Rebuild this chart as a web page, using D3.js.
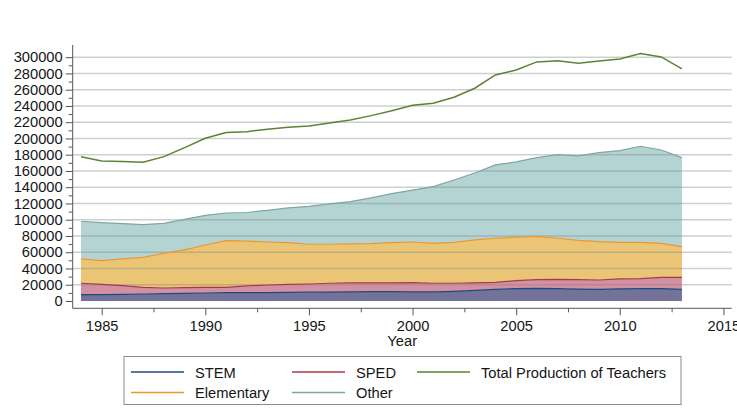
<!DOCTYPE html>
<html>
<head>
<meta charset="utf-8">
<script src="https://cdn.jsdelivr.net/npm/d3@7"></script>
<style>
  html, body { margin: 0; padding: 0; background: #fff; }
  svg { display: block; font-family: "Liberation Sans", Arial, sans-serif; }
</style>
</head>
<body>
<svg id="chart" width="737" height="409"></svg>
<script>
// Teacher production by field, 1984–2013
const years = [1984, 1985, 1986, 1987, 1988, 1989, 1990, 1991, 1992, 1993,
               1994, 1995, 1996, 1997, 1998, 1999, 2000, 2001, 2002, 2003,
               2004, 2005, 2006, 2007, 2008, 2009, 2010, 2011, 2012, 2013];

const stem = [7800, 7800, 8200, 8600, 9000, 9400, 9800, 10200, 10200, 10400,
              10600, 10800, 11000, 11200, 11400, 11600, 11300, 11100, 11900, 13100,
              14400, 15100, 15500, 15100, 14600, 14400, 14800, 15100, 15100, 14400];

const sped = [14000, 12700, 10700, 8200, 7000, 7000, 7000, 6600, 8300, 9300,
              9900, 10100, 10800, 11000, 10800, 10600, 11300, 10700, 9900, 9100,
              8600, 9900, 10700, 11600, 11600, 11400, 12300, 12400, 14000, 14700];

const elementary = [29900, 29100, 32800, 36900, 42700, 46400, 52100, 57400, 55100, 52900,
                    51300, 48900, 48000, 48000, 48300, 49600, 50000, 49200, 50400, 52900,
                    54200, 53400, 53400, 50500, 48500, 47200, 45100, 44700, 41900, 37700];

const other = [46400, 46800, 43500, 40200, 36900, 37700, 36500, 34100, 35300, 39000,
               42700, 46700, 49600, 52000, 56300, 60300, 63900, 69700, 76700, 82400,
               90200, 92700, 96800, 102900, 103800, 109500, 112800, 118200, 114800, 109600];

const total = [177600, 172300, 171500, 170700, 177600, 188700, 200200, 207200, 208400, 211300,
               213700, 215400, 219100, 222800, 228100, 234200, 240800, 243300, 250700, 261800,
               278200, 284300, 294200, 295700, 292500, 295400, 297800, 304400, 300300, 285500];

const yTicks = [0, 20000, 40000, 60000, 80000, 100000, 120000, 140000, 160000,
                180000, 200000, 220000, 240000, 260000, 280000, 300000];
const yMinorTicks = [10000, 30000, 50000, 70000, 90000, 110000, 130000, 150000,
                     170000, 190000, 210000, 230000, 250000, 270000, 290000];
const xTicks = [1985, 1990, 1995, 2000, 2005, 2010, 2015];
const xMinorTicks = [1987.5, 1992.5, 1997.5, 2002.5, 2007.5, 2012.5];

const seriesKeys = ["STEM", "SPED", "Elementary", "Other"];
const seriesValues = [stem, sped, elementary, other];

// Styling
const fills = { STEM: "#737399", SPED: "#d390a2", Elementary: "#e9c575", Other: "#b3d4d3" };
const strokes = { STEM: "#1f4a80", SPED: "#a8394a", Elementary: "#ee962e", Other: "#7ea6a4" };
const totalColor = "#5d8236";
const textColor = "#161616";
const fontSize = "14.7px";

const svg = d3.select("#chart");
svg.append("rect").attr("width", 737).attr("height", 409).attr("fill", "#fff");

const plot = { left: 72.7, right: 731.7, top: 45, bottom: 308.3 };

const x = d3.scaleLinear().domain([1983.6, 2015.4]).range([plot.left, plot.right]);
const y = d3.scaleLinear().domain([-9000, 315000]).range([plot.bottom, plot.top]);

// Rows for stacking
const rows = years.map((yr, i) => {
  const r = { year: yr };
  seriesKeys.forEach((k, j) => { r[k] = seriesValues[j][i]; });
  return r;
});
const stacked = d3.stack().keys(seriesKeys)(rows);

const area = d3.area()
  .x(d => x(d.data.year))
  .y0(d => y(d[0]))
  .y1(d => y(d[1]));

const topLine = d3.line()
  .x(d => x(d.data.year))
  .y(d => y(d[1]));

// Filled stacked areas
svg.append("g").selectAll("path")
  .data(stacked)
  .join("path")
  .attr("d", area)
  .attr("fill", d => fills[d.key]);

// Horizontal grid drawn over the areas
svg.append("g").selectAll("line")
  .data(yTicks.filter(v => v > 0))
  .join("line")
  .attr("x1", plot.left)
  .attr("x2", plot.right)
  .attr("y1", d => y(d))
  .attr("y2", d => y(d))
  .attr("stroke", "#808080")
  .attr("stroke-opacity", 0.38)
  .attr("stroke-width", 1.6);

// Outline on top of each stacked band
svg.append("g").selectAll("path")
  .data(stacked)
  .join("path")
  .attr("d", topLine)
  .attr("fill", "none")
  .attr("stroke", d => strokes[d.key])
  .attr("stroke-width", 1.2);

// Total production line
svg.append("path")
  .datum(years.map((yr, i) => ({ year: yr, v: total[i] })))
  .attr("d", d3.line().x(d => x(d.year)).y(d => y(d.v)))
  .attr("fill", "none")
  .attr("stroke", totalColor)
  .attr("stroke-width", 1.5);

// Axes
const axisColor = "#555";
const yAxisG = svg.append("g").attr("transform", `translate(${plot.left},0)`);
yAxisG.call(d3.axisLeft(y).tickValues(yTicks).tickSize(7).tickPadding(3).tickFormat(d3.format("d")));
yAxisG.append("g").call(d3.axisLeft(y).tickValues(yMinorTicks).tickSize(4).tickFormat(""));
yAxisG.selectAll(".domain").remove();
yAxisG.append("line").attr("y1", plot.top).attr("y2", plot.bottom).attr("stroke", axisColor);

const xAxisG = svg.append("g").attr("transform", `translate(0,${plot.bottom})`);
xAxisG.call(d3.axisBottom(x).tickValues(xTicks).tickSize(7).tickPadding(5).tickFormat(d3.format("d")));
xAxisG.append("g").call(d3.axisBottom(x).tickValues(xMinorTicks).tickSize(4).tickFormat(""));
xAxisG.selectAll(".domain").remove();
xAxisG.append("line").attr("x1", plot.left).attr("x2", plot.right).attr("stroke", axisColor);

svg.selectAll(".tick line").attr("stroke", axisColor);
svg.selectAll(".tick text")
  .attr("fill", textColor)
  .style("font-size", fontSize)
  .style("font-family", '"Liberation Sans", Arial, sans-serif');

// Axis title
svg.append("text")
  .attr("x", (plot.left + plot.right) / 2)
  .attr("y", 346)
  .attr("text-anchor", "middle")
  .attr("fill", textColor)
  .style("font-size", fontSize)
  .text("Year");

// Legend
const legend = svg.append("g");
legend.append("rect")
  .attr("x", 124).attr("y", 356.5)
  .attr("width", 557).attr("height", 48)
  .attr("fill", "#fff")
  .attr("stroke", "#8a8a8a")
  .attr("stroke-width", 1);

const legendItems = [
  { label: "STEM", color: strokes.STEM, lx: 131, row: 0 },
  { label: "SPED", color: strokes.SPED, lx: 292, row: 0 },
  { label: "Total Production of Teachers", color: totalColor, lx: 417, row: 0 },
  { label: "Elementary", color: strokes.Elementary, lx: 131, row: 1 },
  { label: "Other", color: strokes.Other, lx: 292, row: 1 }
];
const rowY = [372, 392.5];

const li = legend.selectAll("g.item")
  .data(legendItems)
  .join("g")
  .attr("class", "item");
li.append("line")
  .attr("x1", d => d.lx)
  .attr("x2", d => d.lx + 53)
  .attr("y1", d => rowY[d.row])
  .attr("y2", d => rowY[d.row])
  .attr("stroke", d => d.color)
  .attr("stroke-width", 1.5);
li.append("text")
  .attr("x", d => d.lx + 64)
  .attr("y", d => rowY[d.row] + 5.5)
  .attr("fill", textColor)
  .style("font-size", fontSize)
  .text(d => d.label);
</script>
</body>
</html>
